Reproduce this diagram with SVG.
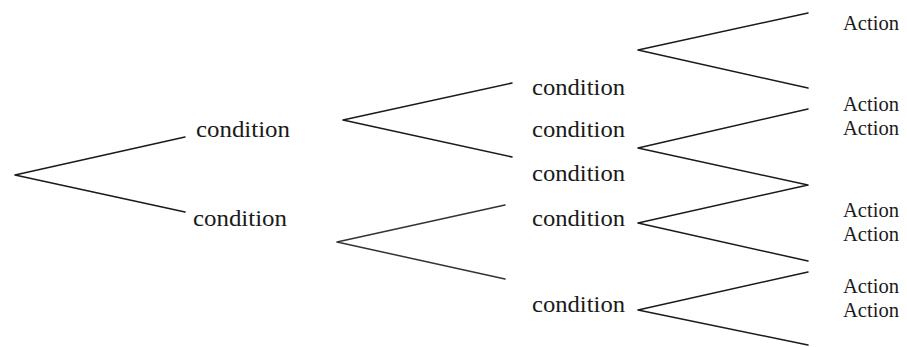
<svg xmlns="http://www.w3.org/2000/svg" width="907" height="347" viewBox="0 0 907 347">
<style>
.c{font-size:24px;fill:#1a1a1a}
.a{font-size:20px;fill:#1a1a1a}
.l{stroke:#1a1a1a;stroke-width:1.5;fill:none;stroke-linecap:round;stroke-linejoin:round}
</style>
<rect width="907" height="347" fill="#ffffff"/>
<g id="connectors">
<polyline class="l" points="185,137 15,175 185,212"/>
<polyline class="l" points="512,83 343,120 512,157"/>
<polyline class="l" points="505,205 337,242 505,279" style="stroke:#333"/>
<polyline class="l" points="808,13 638,50 808,88"/>
<polyline class="l" points="808,109 638,148 808,185 638,223 808,261"/>
<polyline class="l" points="808,272 638,310 808,345"/>
</g>
<g font-family="Liberation Serif, DejaVu Serif, Times New Roman, serif">
<g id="n1"><text class="c" x="196" y="137" textLength="94" lengthAdjust="spacingAndGlyphs">condition</text></g>
<g id="n2"><text class="c" x="193" y="226" textLength="94" lengthAdjust="spacingAndGlyphs">condition</text></g>
<g id="n3"><text class="c" x="532" y="95" textLength="93" lengthAdjust="spacingAndGlyphs">condition</text></g>
<g id="n4"><text class="c" x="532" y="137" textLength="93" lengthAdjust="spacingAndGlyphs">condition</text></g>
<g id="n5"><text class="c" x="532" y="181" textLength="93" lengthAdjust="spacingAndGlyphs">condition</text></g>
<g id="n6"><text class="c" x="532" y="226" textLength="93" lengthAdjust="spacingAndGlyphs">condition</text></g>
<g id="n7"><text class="c" x="532" y="312" textLength="93" lengthAdjust="spacingAndGlyphs">condition</text></g>
<g id="a1"><text class="a" x="843" y="30" textLength="56" lengthAdjust="spacingAndGlyphs">Action</text></g>
<g id="a2"><text class="a" x="843" y="111" textLength="56" lengthAdjust="spacingAndGlyphs">Action</text></g>
<g id="a3"><text class="a" x="843" y="135" textLength="56" lengthAdjust="spacingAndGlyphs">Action</text></g>
<g id="a4"><text class="a" x="843" y="217" textLength="56" lengthAdjust="spacingAndGlyphs">Action</text></g>
<g id="a5"><text class="a" x="843" y="241" textLength="56" lengthAdjust="spacingAndGlyphs">Action</text></g>
<g id="a6"><text class="a" x="843" y="293" textLength="56" lengthAdjust="spacingAndGlyphs">Action</text></g>
<g id="a7"><text class="a" x="843" y="317" textLength="56" lengthAdjust="spacingAndGlyphs">Action</text></g>
</g>
</svg>
